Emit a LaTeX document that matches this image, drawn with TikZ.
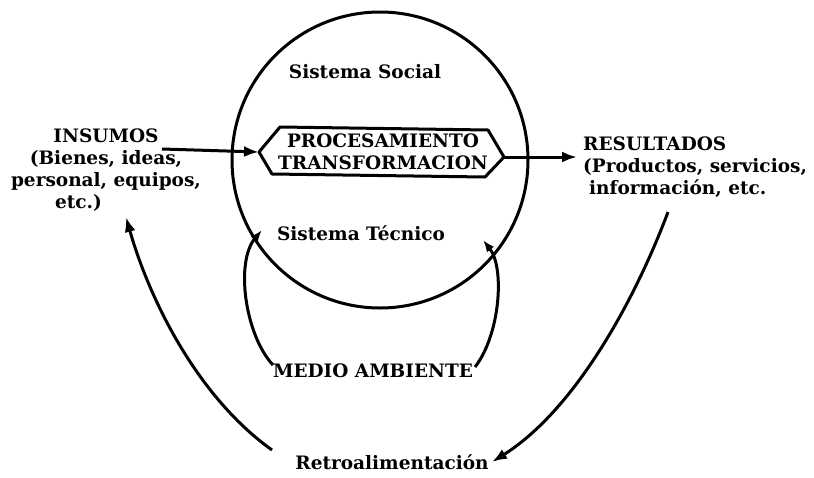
\documentclass[tikz,border=0pt]{standalone}
\usepackage{fontspec}
\setmainfont{DejaVu Serif}
\usetikzlibrary{arrows.meta}
\begin{document}
\begin{tikzpicture}[x=1pt,y=-1pt,
  lbl/.style={inner sep=0pt,font=\fontsize{18.5}{22}\selectfont\bfseries,align=center},
  ln/.style={line width=3pt},
  arr/.style={ln,-{Latex[length=15pt,width=11pt]}},
  sarr/.style={ln,-{Latex[length=12pt,width=9pt]}}]
\useasboundingbox (0,0) rectangle (814,477);
% system circle
\node[draw,circle,line width=3pt,minimum size=296pt,inner sep=0pt] (sys) at (380,160) {};
\node[lbl] (soc) at (365,72) {Sistema Social};
\node[lbl] (tec) at (361,233) {Sistema Técnico};
% processing box
\node[lbl] (proc) at (383,152) {PROCESAMIENTO\\TRANSFORMACION};
\coordinate (pl) at (259,152);
\coordinate (pr) at (504,157);
\draw[ln,line join=round] (pl) -- (280,127) -- (488,130) -- (pr) -- (485,177) -- (272,174) -- cycle;
% inputs / outputs
\node[lbl] (ins) at (106,170) {INSUMOS\\(Bienes, ideas,\\personal, equipos,\\\hspace*{-55pt}etc.)};
\node[lbl,align=left,anchor=north west] (res) at (583,137) {RESULTADOS\\(Productos, servicios,\\\hspace*{6pt}información, etc.};
\coordinate (insout) at (162,149);
\draw[arr] (insout) -- (pl);
\coordinate (resin) at (577,157);
\draw[arr] (pr) -- (resin);
% environment
\node[lbl] (med) at (373,371) {MEDIO AMBIENTE};
\coordinate (ml) at (273,365);
\coordinate (mlt) at (262,230);
\coordinate (mr) at (475,367);
\coordinate (mrt) at (483,240);
\draw[sarr] (ml) .. controls (245,335) and (235,262) .. (mlt);
\draw[sarr] (mr) .. controls (500,335) and (505,268) .. (mrt);
% feedback
\node[lbl] (ret) at (392,462) {Retroalimentación};
\coordinate (fbs) at (668,212);
\coordinate (fbt) at (492,462);
\draw[arr] (fbs) .. controls (635,300) and (575,410) .. (fbt);
\coordinate (fls) at (272,450);
\coordinate (flt) at (126,217);
\draw[arr] (fls) .. controls (195,395) and (148,295) .. (flt);
\end{tikzpicture}
\end{document}
